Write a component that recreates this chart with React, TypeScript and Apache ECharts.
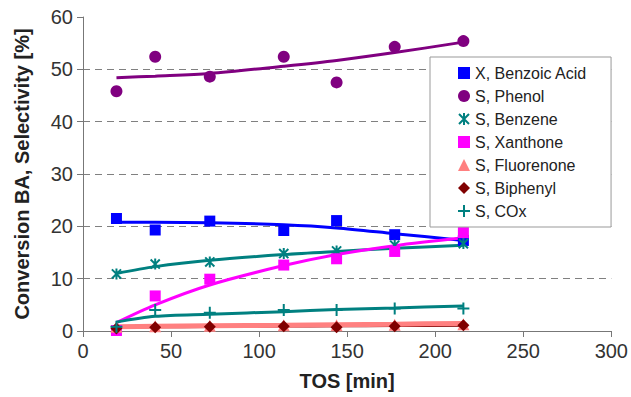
import React, { useEffect, useRef } from "react";
import * as echarts from "echarts";

const tos = [19, 41, 72, 114, 144, 177, 216];

const benzoicAcid = [21.5, 19.3, 21.0, 19.2, 21.1, 18.4, 17.3];
const phenol = [45.8, 52.4, 48.6, 52.4, 47.5, 54.3, 55.4];
const benzene = [10.9, 12.8, 13.2, 14.8, 15.3, 16.4, 16.7];
const xanthone = [0.1, 6.7, 9.9, 12.6, 13.8, 15.2, 18.8];
const fluorenone = [0.8, 0.9, 1.0, 1.1, 1.1, 1.2, 1.3];
const biphenyl = [0.5, 0.7, 0.8, 0.9, 0.7, 0.9, 1.1];
const cox = [0.8, 4.0, 3.5, 4.0, 4.0, 4.3, 4.3];

const trendBenzoicAcid = [20.8, 20.8, 20.7, 20.3, 19.7, 18.6, 17.3];
const trendPhenol = [48.4, 48.7, 49.2, 50.6, 51.7, 53.2, 55.2];
const trendBenzene = [11.0, 12.3, 13.5, 14.6, 15.2, 15.8, 16.4];
const trendXanthone = [1.6, 5.0, 8.8, 12.5, 14.6, 16.3, 17.8];
const trendFluorenone = [0.8, 0.9, 1.0, 1.1, 1.2, 1.3, 1.45];
const trendBiphenyl = [0.6, 0.7, 0.75, 0.85, 0.9, 0.95, 1.0];
const trendCox = [1.7, 2.8, 3.2, 3.7, 4.1, 4.4, 4.8];

const xTicks = { min: 0, max: 300, interval: 50 };
const yTicks = { min: 0, max: 60, interval: 10 };

const FONT = 'Arial, "Liberation Sans", sans-serif';
const ASTERISK = "path://M0 0L10 10M10 0L0 10M5 -1L5 11";
const PLUS = "path://M5 0L5 10M0 5L10 5";

const pair = (ys: number[]) => tos.map((x, i) => [x, ys[i]]);

export default function App() {
  const ref = useRef<HTMLDivElement>(null);
  useEffect(() => {
    document.body.style.margin = "0";
    const chart = echarts.init(ref.current!, undefined, { renderer: "svg" });

    const scatterDefs = [
      { name: "X, Benzoic Acid", data: benzoicAcid, color: "#0000FF", symbol: "rect", size: 11 },
      { name: "S, Phenol", data: phenol, color: "#800080", symbol: "circle", size: 12 },
      { name: "S, Benzene", data: benzene, color: "#008080", symbol: ASTERISK, size: 11, stroke: true },
      { name: "S, Xanthone", data: xanthone, color: "#FF00FF", symbol: "rect", size: 11 },
      { name: "S, Fluorenone", data: fluorenone, color: "#FF8080", symbol: "triangle", size: 12 },
      { name: "S, Biphenyl", data: biphenyl, color: "#800000", symbol: "diamond", size: 12 },
      { name: "S, COx", data: cox, color: "#008080", symbol: PLUS, size: 12, stroke: true },
    ];
    const trendDefs = [
      { data: trendBenzoicAcid, color: "#0000FF", width: 3 },
      { data: trendPhenol, color: "#800080", width: 3 },
      { data: trendBenzene, color: "#008080", width: 3 },
      { data: trendXanthone, color: "#FF00FF", width: 3 },
      { data: trendBiphenyl, color: "#800000", width: 2 },
      { data: trendFluorenone, color: "#FF8080", width: 5 },
      { data: trendCox, color: "#008080", width: 3 },
    ];

    const series: any[] = [];
    trendDefs.forEach((t) => {
      series.push({
        type: "line",
        data: pair(t.data),
        smooth: 0.3,
        showSymbol: false,
        symbol: "none",
        lineStyle: { color: t.color, width: t.width },
        itemStyle: { color: t.color },
        silent: true,
        z: 2,
      });
    });
    scatterDefs.forEach((s) => {
      series.push({
        type: "scatter",
        name: s.name,
        data: pair(s.data),
        symbol: s.symbol,
        symbolSize: s.size,
        symbolKeepAspect: true,
        itemStyle: s.stroke
          ? { color: "rgba(0,0,0,0)", borderColor: s.color, borderWidth: 2, opacity: 1 }
          : { color: s.color, opacity: 1 },
        z: 3,
      });
    });

    const gridColors = ["#808080", "#808080", "#808080", "#808080", "#808080", "#808080", "rgba(0,0,0,0)"];

    chart.setOption({
      animation: false,
      textStyle: { fontFamily: FONT },
      grid: { left: 83, right: 14, top: 17, bottom: 66, containLabel: false },
      xAxis: {
        type: "value",
        ...xTicks,
        name: "TOS [min]",
        nameLocation: "middle",
        nameGap: 40,
        nameTextStyle: { fontSize: 20, fontWeight: "bold", color: "#222", fontFamily: FONT },
        axisLine: { show: true, lineStyle: { color: "#777", width: 1 } },
        axisTick: { show: true, inside: false, length: 6, lineStyle: { color: "#777" } },
        axisLabel: { fontSize: 20, color: "#333", margin: 10, fontFamily: FONT },
        splitLine: { show: false },
      },
      yAxis: {
        type: "value",
        ...yTicks,
        name: "Conversion BA, Selectivity [%]",
        nameLocation: "middle",
        nameGap: 51,
        nameTextStyle: { fontSize: 20, fontWeight: "bold", color: "#222", fontFamily: FONT },
        axisLine: { show: true, lineStyle: { color: "#777", width: 1 } },
        axisTick: { show: true, inside: false, length: 6, lineStyle: { color: "#777" } },
        axisLabel: { fontSize: 20, color: "#333", margin: 10, fontFamily: FONT },
        splitLine: { show: true, lineStyle: { type: [7, 5], color: gridColors, width: 1 } },
      },
      legend: {
        orient: "vertical",
        left: 430,
        top: 57,
        align: "left",
        backgroundColor: "#fff",
        borderColor: "#999",
        borderWidth: 1,
        padding: [8, 24, 8, 27],
        itemWidth: 12,
        itemHeight: 12,
        itemGap: 7,
        textStyle: { fontSize: 16, color: "#222", fontFamily: FONT },
        data: scatterDefs.map((s) => s.name),
      },
      series,
    });
    return () => chart.dispose();
  }, []);
  return (
    <div
      ref={ref}
      style={{ position: "fixed", left: 0, top: 0, width: 631, height: 397, background: "#fff" }}
    />
  );
}
